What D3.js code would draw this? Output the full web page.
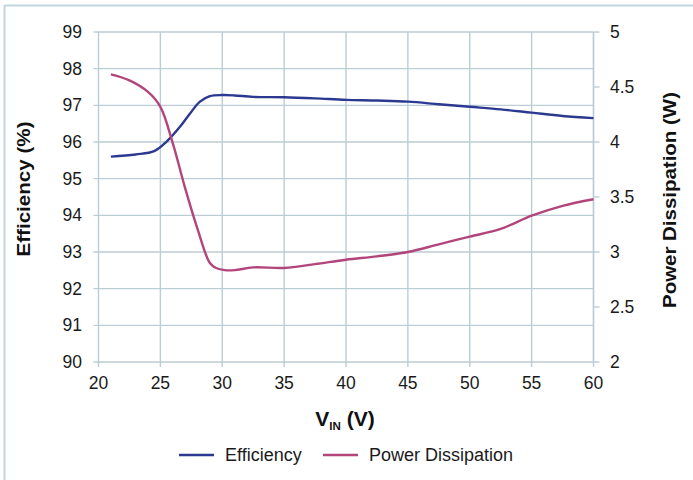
<!DOCTYPE html>
<html><head><meta charset="utf-8">
<script src="https://cdn.jsdelivr.net/npm/d3@7"></script>
<style>body{margin:0;background:#fff;}svg{display:block;font-family:"Liberation Sans",Arial,sans-serif;}</style>
</head><body>
<svg id="c" width="693" height="480"></svg>
<script>
const vin = [21, 23, 24.5, 25.5, 26.6, 27.4, 28.2, 29, 30, 31, 32.5, 35, 37.5, 40, 42.5, 45, 47.5, 50, 52.5, 55, 57.5, 60];
const efficiency = [95.6, 95.66, 95.75, 96.01, 96.42, 96.78, 97.1, 97.25, 97.28, 97.27, 97.23, 97.22, 97.19, 97.15, 97.13, 97.1, 97.03, 96.96, 96.89, 96.8, 96.71, 96.65];
const powerVin = [21, 22.5, 24, 25, 26, 27, 28, 29, 29.5, 30.2, 31, 32.5, 35, 37.5, 40, 42.5, 45, 47.5, 50, 52.5, 55, 57.5, 60];
const power = [4.615, 4.56, 4.455, 4.32, 3.99, 3.58, 3.21, 2.9, 2.855, 2.835, 2.835, 2.86, 2.855, 2.89, 2.93, 2.96, 3.0, 3.07, 3.14, 3.21, 3.33, 3.42, 3.48];
const xTicks = [20, 25, 30, 35, 40, 45, 50, 55, 60];
const yLeftTicks = [90, 91, 92, 93, 94, 95, 96, 97, 98, 99];
const yRightTicks = [2, 2.5, 3, 3.5, 4, 4.5, 5];
const seriesNames = ["Efficiency", "Power Dissipation"];
const colors = ["#2b3990", "#b2457c"];

const svg = d3.select("#c");
const L = 98.5, R = 593.5, T = 32, B = 362;
const x = d3.scaleLinear().domain([20, 60]).range([L, R]);
const yL = d3.scaleLinear().domain([90, 99]).range([B, T]);
const yR = d3.scaleLinear().domain([2, 5]).range([B, T]);
const gridC = "#bccdd5";

// frame
svg.append("line").attr("x1", 4.5).attr("x2", 693).attr("y1", 5.5).attr("y2", 5.5).attr("stroke", "#c3d5dc").attr("stroke-width", 2);
svg.append("line").attr("x1", 4.5).attr("x2", 4.5).attr("y1", 5).attr("y2", 480).attr("stroke", "#c3d5dc").attr("stroke-width", 2);

// grid
const g = svg.append("g");
g.selectAll(".vg").data(xTicks).join("line").attr("x1", d => x(d)).attr("x2", d => x(d)).attr("y1", T).attr("y2", B + 5).attr("stroke", gridC).attr("stroke-width", 1.4);
g.selectAll(".hg").data(yLeftTicks).join("line").attr("x1", L - 5).attr("x2", R).attr("y1", d => yL(d)).attr("y2", d => yL(d)).attr("stroke", gridC).attr("stroke-width", 1.4);
g.append("line").attr("x1", R).attr("x2", R).attr("y1", T).attr("y2", B).attr("stroke", gridC).attr("stroke-width", 1.4);
g.selectAll(".rt").data(yRightTicks).join("line").attr("x1", R).attr("x2", R + 6).attr("y1", d => yR(d)).attr("y2", d => yR(d)).attr("stroke", gridC).attr("stroke-width", 1.4);

// tick labels
const fs = 17.5;
svg.selectAll(".xl").data(xTicks).join("text").attr("x", d => x(d)).attr("y", 389).attr("text-anchor", "middle").attr("font-size", fs).attr("fill", "#1a1a1a").text(d => d);
svg.selectAll(".yl").data(yLeftTicks).join("text").attr("x", 82).attr("y", d => yL(d) + 6).attr("text-anchor", "end").attr("font-size", fs).attr("fill", "#1a1a1a").text(d => d);
svg.selectAll(".yr").data(yRightTicks).join("text").attr("x", 610).attr("y", d => yR(d) + 6).attr("text-anchor", "start").attr("font-size", fs).attr("fill", "#1a1a1a").text(d => d);

// axis titles
svg.append("text").attr("transform", "translate(30,189) rotate(-90)").attr("text-anchor", "middle").attr("font-size", 19).attr("font-weight", "bold").attr("fill", "#111")
  .attr("textLength", 135).attr("lengthAdjust", "spacingAndGlyphs").text("Efficiency (%)");
svg.append("text").attr("transform", "translate(676,200) rotate(-90)").attr("text-anchor", "middle").attr("font-size", 18.5).attr("font-weight", "bold").attr("fill", "#111")
  .attr("textLength", 216).attr("lengthAdjust", "spacingAndGlyphs").text("Power Dissipation (W)");
const xt = svg.append("text").attr("x", 345).attr("y", 426).attr("text-anchor", "middle").attr("font-weight", "bold").attr("fill", "#111").attr("font-size", 21);
xt.append("tspan").text("V");
xt.append("tspan").attr("font-size", 11.5).attr("dy", 4).text("IN");
xt.append("tspan").attr("dy", -4).text(" (V)");

// lines
const curve = d3.curveCatmullRom.alpha(0.5);
const lineL = d3.line().x(d => x(d[0])).y(d => yL(d[1])).curve(curve);
const lineR = d3.line().x(d => x(d[0])).y(d => yR(d[1])).curve(curve);
svg.append("path").attr("d", lineL(vin.map((v, i) => [v, efficiency[i]]))).attr("fill", "none").attr("stroke", colors[0]).attr("stroke-width", 2.4);
svg.append("path").attr("d", lineR(powerVin.map((v, i) => [v, power[i]]))).attr("fill", "none").attr("stroke", colors[1]).attr("stroke-width", 2.4);

// legend
const lx = [179, 323];
seriesNames.forEach((n, i) => {
  svg.append("line").attr("x1", lx[i]).attr("x2", lx[i] + 35).attr("y1", 455).attr("y2", 455).attr("stroke", colors[i]).attr("stroke-width", 2.6);
  svg.append("text").attr("x", lx[i] + 46).attr("y", 461).attr("font-size", 18).attr("fill", "#1a1a1a").text(n);
});
</script>
</body></html>
